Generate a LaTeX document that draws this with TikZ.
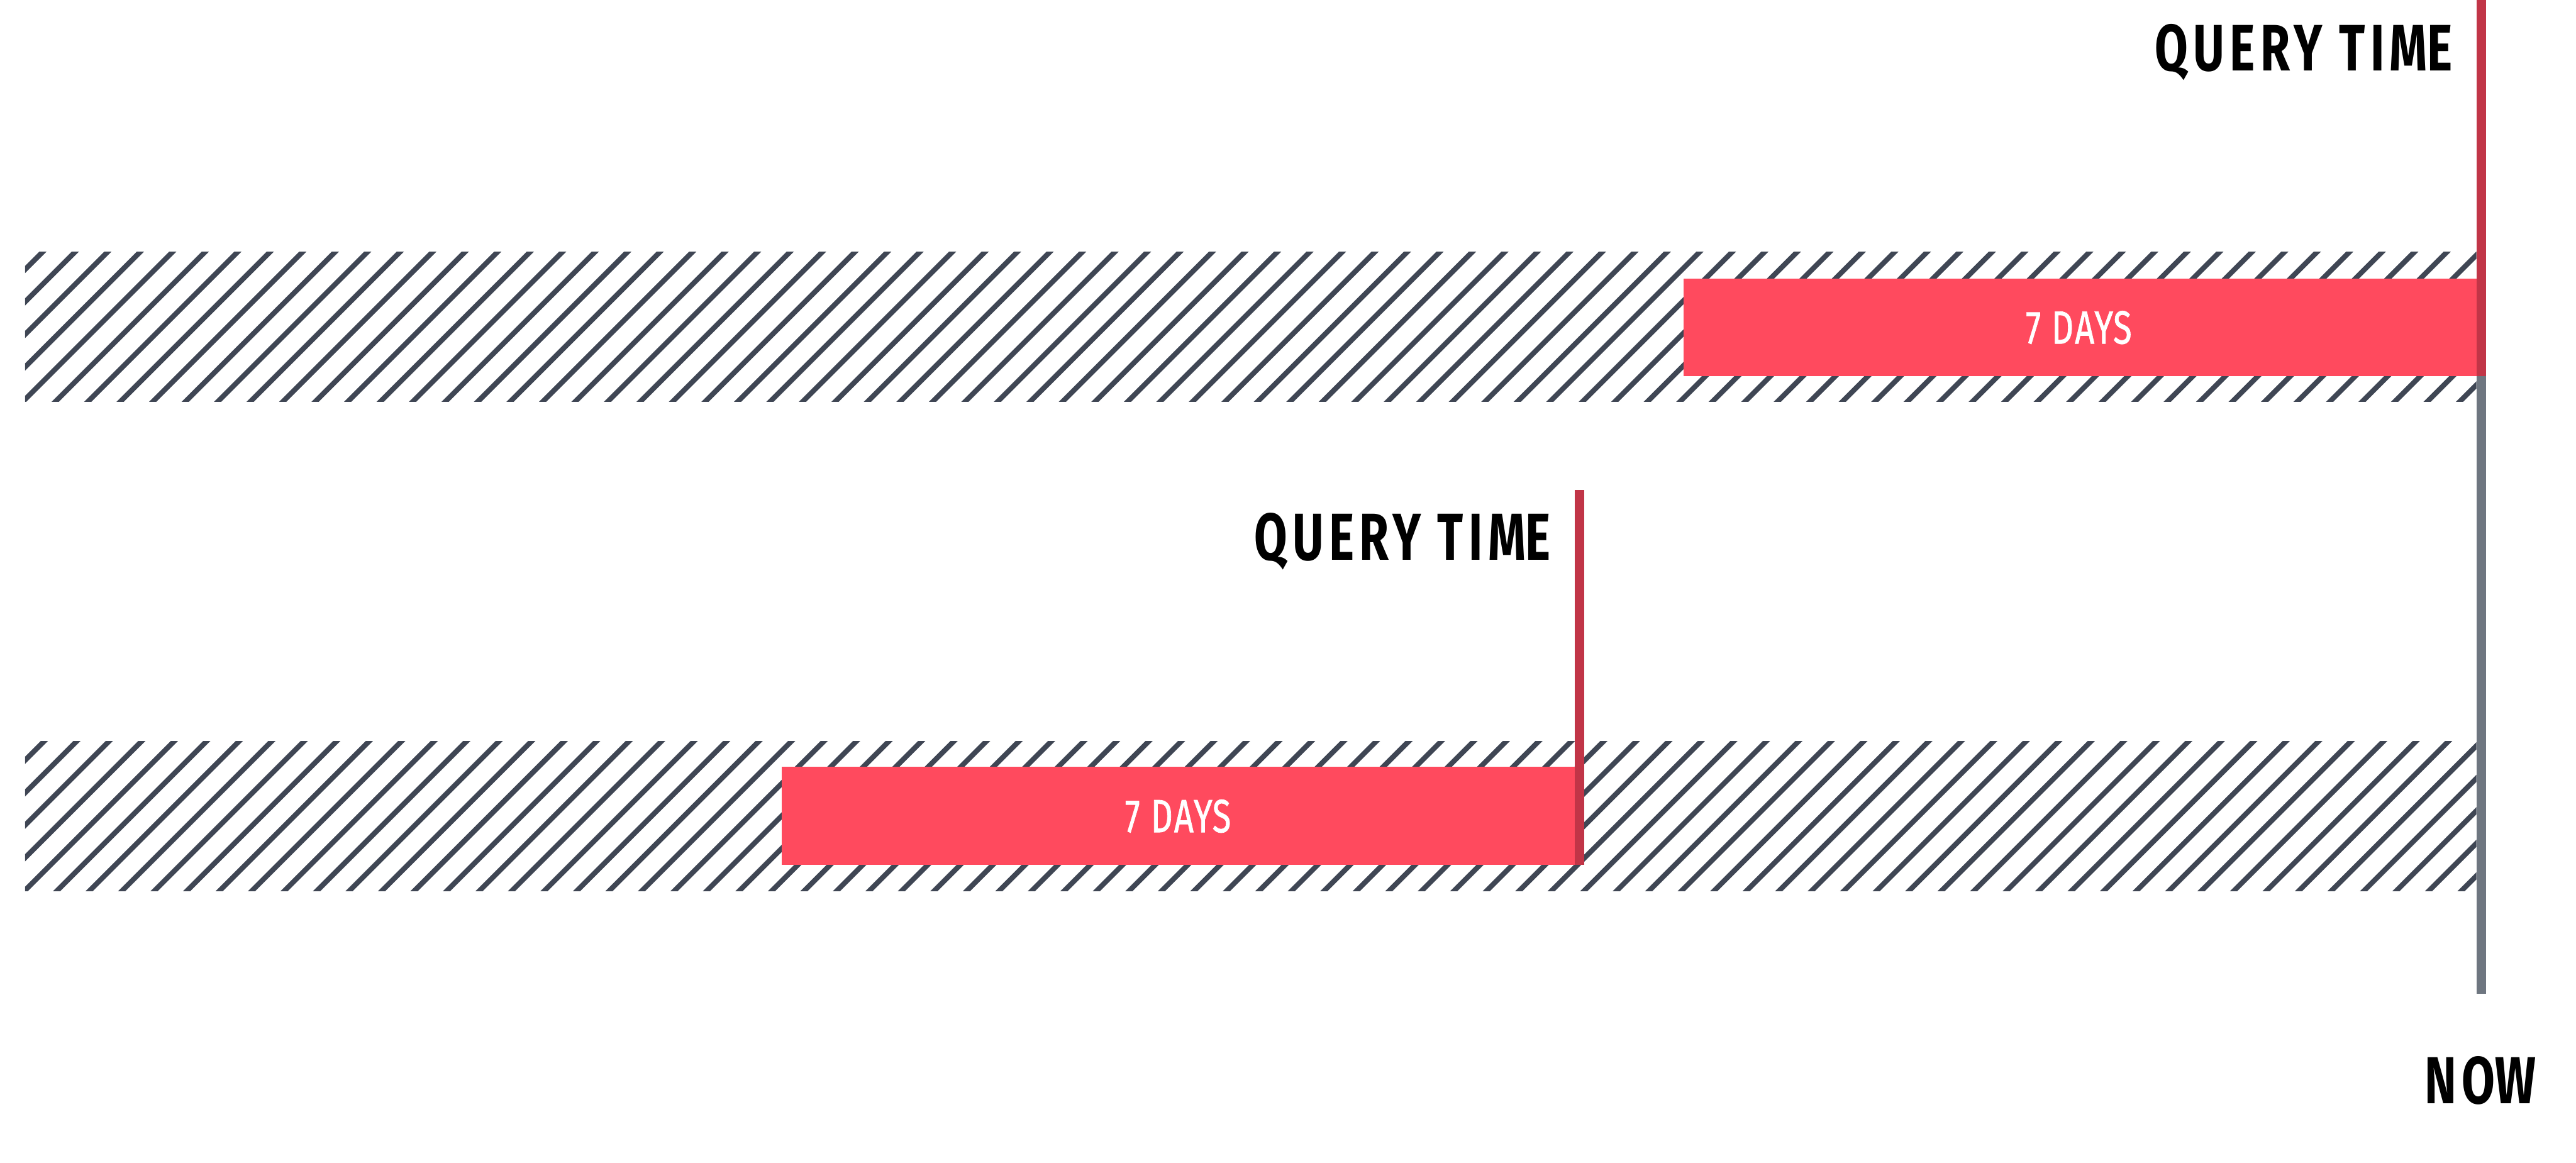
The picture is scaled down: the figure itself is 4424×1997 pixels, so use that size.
\documentclass[tikz,border=0pt]{standalone}
\usepackage{fontspec}
\setmainfont{Fira Sans}[BoldFont={Fira Sans Bold}]
\newfontfamily\dinfont{Fira Sans Bold}
\newfontfamily\dinlight{Fira Sans}[FakeBold=1.2]
\definecolor{hatchc}{HTML}{3F4654}
\definecolor{barred}{HTML}{FF4A5E}
\definecolor{linered}{HTML}{C13547}
\definecolor{nowgray}{HTML}{6E7680}
\newcommand{\spaced}[2]{{\addfontfeature{LetterSpace=#1}#2}}
\tikzset{
  hatchline/.style={draw=hatchc, line width=2.5pt},
  redbar/.style={fill=barred},
  label/.style={inner sep=0pt, outer sep=0pt, text=black, font=\dinfont},
  barlabel/.style={inner sep=0pt, outer sep=0pt, text=white, font=\dinlight},
}
\begin{document}
\begin{tikzpicture}[x=0.01cm, y=-0.01cm]
\useasboundingbox (0,0) rectangle (4424,1997);
\fill[white] (0,0) rectangle (4424,1997);
% hatch strip 1
\begin{scope}
  \clip (43,433) rectangle (4253,690);
  \foreach \k in {-2,...,86} {
    \draw[hatchline] ({72.8+55.8*\k+20}, 413) -- ({72.8+55.8*\k-277}, 710);
  }
\end{scope}
% hatch strip 2
\begin{scope}
  \clip (43,1273) rectangle (4253,1530);
  \foreach \k in {-25,...,62} {
    \draw[hatchline] ({1359+55.8*\k+20}, 1253) -- ({1359+55.8*\k-277}, 1550);
  }
\end{scope}
% bars
\fill[redbar] (2891,478) rectangle (4253,646);
\fill[redbar] (1342,1317) rectangle (2705,1485);
% vertical lines
\fill[nowgray] (4253,0) rectangle (4269,1707);
\fill[linered] (4253,0) rectangle (4269,646);
\fill[linered] (2705,841) rectangle (2721,1485);
% labels
\node[label, anchor=base west] (qt1) at (3701,121)
  {\resizebox{5.11cm}{0.80cm}{\spaced{11}{QUERY TIM}E}};
\node[label, anchor=base west] (qt2) at (2154,962)
  {\resizebox{5.09cm}{0.81cm}{\spaced{11}{QUERY TIM}E}};
\node[label, anchor=base west] (now) at (4164,1895)
  {\resizebox{1.91cm}{0.81cm}{\spaced{11}{NO}W}};
\node[barlabel, anchor=base] (d1) at (3570,590)
  {\resizebox{1.82cm}{0.56cm}{\spaced{5}{7 DAY}S}};
\node[barlabel, anchor=base] (d2) at (2023,1429)
  {\resizebox{1.82cm}{0.56cm}{\spaced{5}{7 DAY}S}};
\end{tikzpicture}
\end{document}
